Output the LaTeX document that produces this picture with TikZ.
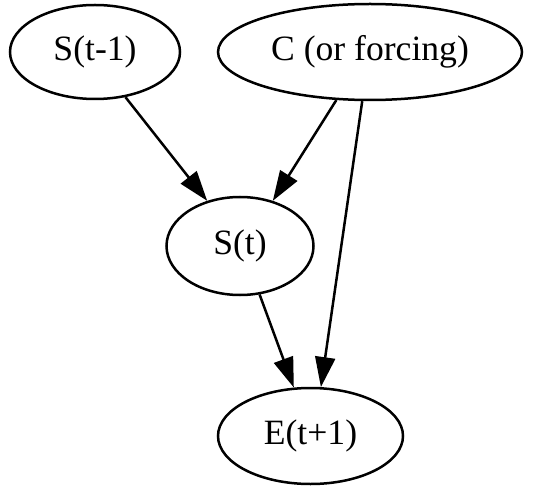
\documentclass[tikz,border=0pt]{standalone}
\usepackage{fontspec}
\setmainfont{Liberation Serif}
\usetikzlibrary{shapes.geometric,arrows.meta}
\begin{document}
\begin{tikzpicture}[x=0.5pt,y=-0.5pt,
  vnode/.style={draw,ellipse,line width=1.25pt,inner sep=0pt,font=\fontsize{17.8}{21}\selectfont},
  edge/.style={line width=1.25pt,-{Triangle[length=15pt,width=10pt]}}]
\useasboundingbox (0,0) rectangle (540,486);
\node[vnode,minimum width=170pt*0.5,minimum height=94pt*0.5] (s1) at (95,52) {S(t-1)};
\node[vnode,minimum width=304pt*0.5,minimum height=96pt*0.5] (c) at (370,52) {C (or forcing)};
\node[vnode,minimum width=147pt*0.5,minimum height=98pt*0.5] (s) at (240,246) {S(t)};
\node[vnode,minimum width=185pt*0.5,minimum height=96pt*0.5] (e) at (310.5,436) {E(t+1)};
\draw[edge] (s1.-56) -- (s.126);
\draw[edge] (c.-125) -- (s.54);
\draw[edge] (c.-99) -- (e.78);
\draw[edge] (s.-68) -- (e.109);
\end{tikzpicture}
\end{document}
